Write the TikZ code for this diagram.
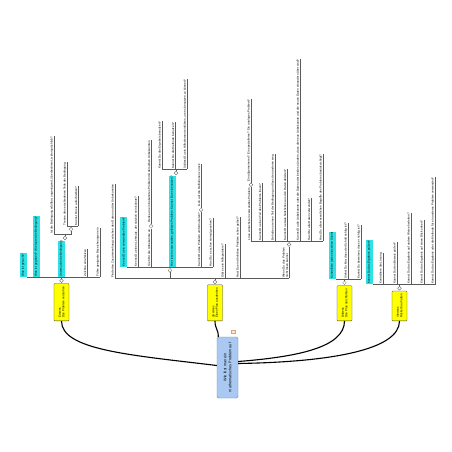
\documentclass[tikz,border=0pt]{standalone}
\usepackage{fontspec}
\setmainfont{Liberation Sans}
\usepackage{xcolor}
\usepackage{tikz}
\usetikzlibrary{positioning}

\definecolor{rootblue}{HTML}{A9C9F2}
\definecolor{rootedge}{HTML}{6A88B8}
\definecolor{phaseyellow}{HTML}{FFFF00}
\definecolor{keycyan}{HTML}{2DE2E6}
\definecolor{forkgray}{HTML}{5A5A5A}
\definecolor{noteedge}{HTML}{E8A070}
\definecolor{notefill}{HTML}{FBE6D8}

\begin{document}
\begin{tikzpicture}[x=1pt, y=-1pt,
	every node/.style={font=\fontsize{3}{3.5}\selectfont},
	leaf/.style={rotate=90, anchor=south west, inner xsep=0.5pt, inner ysep=0.6pt, align=left},
	task/.style={leaf, fill=keycyan, inner ysep=2.2pt},
	phase/.style={rotate=90, anchor=west, draw=black!75, fill=phaseyellow, rounded corners=0.8pt, line width=0.3pt, align=left, minimum height=15pt, inner xsep=3pt},
	problem/.style={rotate=90, draw=rootedge, fill=rootblue, rounded corners=1.5pt, line width=0.4pt, align=center, minimum width=61pt, minimum height=21pt, font=\fontsize{3.8}{4.8}\selectfont},
	fold/.style={circle, draw=forkgray, fill=white, line width=0.3pt, minimum size=3.8pt, inner sep=0pt},
	fork/.style={draw=forkgray, line width=0.35pt},
	trunk/.style={draw=black, line width=1.1pt}]
	\useasboundingbox[fill=white] (0,0) rectangle (452,452);

	\node[problem] (root) at (227.5,367.5) {Wie löst man ein\\mathematisches Problem auf};
	\node[draw=noteedge, fill=notefill, line width=0.3pt, minimum width=4pt, minimum height=3pt, inner sep=0pt] (note) at (233,332) {};
	\node[phase] (p1) at (61.5,321) {Erstens\\Das Problem verstehen};
	\node[phase] (p2) at (215,321) {Zweitens\\Einen Plan ausdenken};
	\node[phase] (p3) at (344.5,321) {Drittens\\Den Plan durchführen};
	\node[phase] (p4) at (399.5,321) {Viertens\\Rückschau halten};

	\draw[trunk] ([yshift=2pt]root.north) .. controls (130,355) and (61.5,350) .. (p1.west);
	\draw[trunk] (p2.west) .. controls +(0,8) and +(0,-8) .. ([xshift=1.5pt]root.north east);
	\draw[trunk] ([yshift=6pt]root.south) .. controls (295,357) and (344.5,348) .. (p3.west);
	\draw[trunk] ([yshift=4pt]root.south) .. controls (330,362) and (399.5,350) .. (p4.west);

	\node[fold, above=0.6pt of p1.east] (fa) {};
	\coordinate (ka) at ([yshift=1.5pt]fa.north);
	\node[task] (a1) at (27,0 |- ka) {Was ist gesucht?};
	\node[task] (a2) at (40,0 |- ka) {Was ist gegeben? Wie lautet die Bedingung?};
	\node[task] (a3) at (65,0 |- ka) {Untersuche die Bedingung};
	\node[leaf] (a4) at (87,0 |- ka) {Zeichne eine Skizze};
	\node[leaf] (a5) at (100,0 |- ka) {Führe geeignete Bezeichnungen ein};
	\foreach \n in {a1,a2,a3,a4,a5} \draw[fork] (fa.north) |- (\n.south west);

	\node[fold, above=0.4pt of a3.south east] (fa3) {};
	\coordinate (ka3) at ([yshift=1.5pt]fa3.north);
	\node[leaf] (a31) at (54,0 |- ka3) {Ist die Bedingung erfüllbar, ungenügend, überbestimmt, widersprüchlich?};
	\coordinate (a32) at (71,0 |- ka3);
	\node[fold, above=3pt of a32] (fa32) {};
	\coordinate (ka32) at ([yshift=1.5pt]fa32.north);
	\node[leaf] (a321) at (67,0 |- ka32) {Trenne die verschiedenen Teile der Bedingung};
	\node[leaf] (a322) at (78,0 |- ka32) {Kannst Du sie aufschreiben?};
	\draw[fork] (fa3.north) |- (a31.south west) (fa3.north) |- (a32) -- (fa32.south);
	\foreach \n in {a321,a322} \draw[fork] (fa32.north) |- (\n.south west);

	\node[fold, above=0.6pt of p2.east] (fb) {};
	\coordinate (kb) at ([yshift=1.5pt]fb.north);
	\node[leaf] (b1) at (115,0 |- kb) {Finde den Zusammenhang zwischen den Daten und der Unbekannten};
	\coordinate (b2) at (170,0 |- kb);
	\node[leaf] (b3) at (225,0 |- kb) {Gibt es ein Hilfsproblem?};
	\node[leaf] (b4) at (240,0 |- kb) {Hast Du ein ähnliches Problem schon gelöst?};
	\node[leaf] (b5) at (289,0 |- kb) {Wenn Du das Problem\\nicht lösen kannst};
	\foreach \n in {b1,b3,b4,b5} \draw[fork] (fb.north) |- (\n.south west);
	\draw[fork] (fb.north) |- (b2);

	\node[fold, above=6pt of b2] (fb2) {};
	\coordinate (kb2) at ([yshift=1.5pt]fb2.north);
	\draw[fork] (b2) -- (fb2.south);
	\node[task] (b21) at (127,0 |- kb2) {Kennst Du ein verwandtes Problem?};
	\node[leaf] (b22) at (138,0 |- kb2) {Kennst Du einen Lehrsatz, der nützlich sein könnte?};
	\node[leaf] (b23) at (151,0 |- kb2) {Sieh Dir die Unbekannte an};
	\node[task] (b24) at (176,0 |- kb2) {Hier ist ein verwandtes, gelöstes Problem. Kannst Du es benutzen?};
	\node[leaf] (b25) at (201,0 |- kb2) {Kannst Du das Problem umformulieren?};
	\node[leaf] (b26) at (213,0 |- kb2) {Hast Du es schon einmal gesehen?};
	\foreach \n in {b21,b22,b23,b24,b25,b26} \draw[fork] (fb2.north) |- (\n.south west);

	\node[fold, above=0.4pt of b23.south east] (fb23) {};
	\node[leaf] (b231) at ([yshift=0.8pt]fb23.north) {Denke an ein bekanntes Problem mit derselben Unbekannten};
	\draw[fork] (fb23.north) -- (b231.south west);

	\node[fold, above=0.4pt of b24.south east] (fb24) {};
	\coordinate (kb24) at ([yshift=1.5pt]fb24.north);
	\node[leaf] (b241) at (162,0 |- kb24) {Kannst Du das Ergebnis benutzen?};
	\node[leaf] (b242) at (175,0 |- kb24) {Kannst Du die Methode benutzen?};
	\node[leaf] (b243) at (187,0 |- kb24) {Solltest Du ein Hilfselement einführen, um es benutzen zu können?};
	\foreach \n in {b241,b242,b243} \draw[fork] (fb24.north) |- (\n.south west);

	\node[fold, above=0.4pt of b25.south east] (fb25) {};
	\node[leaf] (b251) at ([yshift=0.8pt]fb25.north) {Geh auf die Definitionen zurück};
	\draw[fork] (fb25.north) -- (b251.south west);

	\node[fold, above=0.4pt of b5.south east] (fb5) {};
	\coordinate (kb5) at ([yshift=1.5pt]fb5.north);
	\node[leaf] (b51) at (251,0 |- kb5) {Löse zunächst ein verwandtes Problem};
	\node[leaf] (b52) at (262,0 |- kb5) {Kannst Du einen Teil des Problems lösen?};
	\node[leaf] (b53) at (275,0 |- kb5) {Behalte nur einen Teil der Bedingung und lass den anderen weg};
	\node[leaf] (b54) at (287,0 |- kb5) {Kannst Du etwas Nützliches aus den Daten ableiten?};
	\node[leaf] (b55) at (300,0 |- kb5) {Kannst Du die Unbekannte oder die Daten oder beide so ändern, dass die neue Unbekannte und die neuen Daten einander näher sind?};
	\node[leaf] (b56) at (311,0 |- kb5) {Hast Du alle Daten verwendet?};
	\node[leaf] (b57) at (323,0 |- kb5) {Hast Du alle wesentlichen Begriffe des Problems berücksichtigt?};
	\foreach \n in {b51,b52,b53,b54,b55,b56,b57} \draw[fork] (fb5.north) |- (\n.south west);

	\node[fold, above=0.4pt of b51.south east] (fb51) {};
	\node[leaf] (b511) at ([yshift=0.8pt]fb51.north) {Ein allgemeineres? Ein spezielleres? Ein analoges Problem?};
	\draw[fork] (fb51.north) -- (b511.south west);

	\node[fold, above=0.6pt of p3.east] (fc) {};
	\coordinate (kc) at ([yshift=1.5pt]fc.north);
	\node[task] (c1) at (336,0 |- kc) {Kontrolliere jeden einzelnen Schritt};
	\node[leaf] (c2) at (348,0 |- kc) {Siehst Du klar, dass der Schritt richtig ist?};
	\node[leaf] (c3) at (361,0 |- kc) {Kannst Du beweisen, dass er richtig ist?};
	\foreach \n in {c1,c2,c3} \draw[fork] (fc.north) |- (\n.south west);

	\node[fold, above=0.6pt of p4.east] (fd) {};
	\coordinate (kd) at ([yshift=1.5pt]fd.north);
	\node[task] (d1) at (373,0 |- kd) {Kannst Du das Ergebnis prüfen?};
	\node[leaf] (d2) at (383,0 |- kd) {Kontrolliere die Lösung};
	\node[leaf] (d3) at (397,0 |- kd) {Kannst Du den Beweis prüfen?};
	\node[leaf] (d4) at (411,0 |- kd) {Kannst Du das Ergebnis auf andere Weise herleiten?};
	\node[leaf] (d5) at (424,0 |- kd) {Kannst Du das Ergebnis auf einen Blick sehen?};
	\node[leaf] (d6) at (435,0 |- kd) {Kannst Du das Ergebnis oder die Methode für ein anderes Problem verwenden?};
	\foreach \n in {d1,d2,d3,d4,d5,d6} \draw[fork] (fd.north) |- (\n.south west);

	\foreach \n in {a4,a5,a31,a321,a322,b1,b22,b23,b231,b241,b242,b243,b25,b251,b26,b3,b4,b5,b51,b511,b52,b53,b54,b55,b56,b57,c2,c3,d2,d3,d4,d5,d6}
		\draw[fork] (\n.south west) -- (\n.south east);
\end{tikzpicture}
\end{document}
